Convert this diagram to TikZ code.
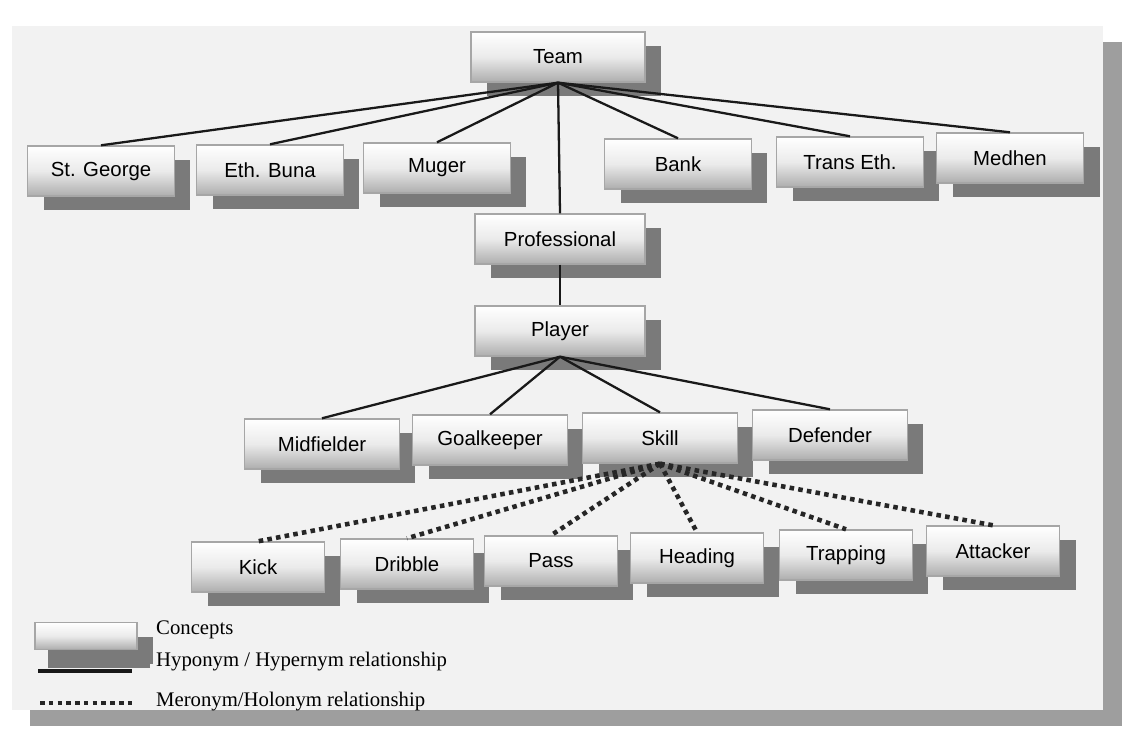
\documentclass[tikz,border=0pt]{standalone}
\usepackage{fontspec}
\setmainfont{Liberation Serif}
\newfontfamily\boxfont{Liberation Sans}
\usetikzlibrary{shadows}

\tikzset{
  concept/.style={draw=black!35, line width=0.8pt, shading=axis, top color=white, bottom color=black!32,
    middle color=black!8, minimum height=1cm, inner sep=2pt,
    font=\boxfont\fontsize{11.6}{13}\selectfont,
    drop shadow={shadow xshift=0.32cm, shadow yshift=-0.28cm, fill=black!52, opacity=1}},
  toprow/.style={concept, minimum width=2.94cm},
  midrow/.style={concept, minimum width=3.1cm},
  lowrow/.style={concept, minimum width=2.66cm},
  hypo/.style={line width=1.3pt, black!90},
  mero/.style={line width=2.6pt, black!85, dash pattern=on 2.6pt off 2.4pt},
  legtext/.style={anchor=west, font=\fontsize{11.8}{13}\selectfont}
}

\begin{document}
\begin{tikzpicture}[x=0.02cm, y=-0.02cm]
  \useasboundingbox (0,0) rectangle (1135,743);
  % page with its shadow
  \fill[black!38] (30,42) rectangle (1122,726);
  \fill[black!5] (12,26) rectangle (1103,710);

  % concepts
  \node[concept, minimum width=3.48cm] (team) at (558,57) {Team};
  \node[toprow] (stgeorge) at (101,171) {St. George};
  \node[toprow] (ethbuna) at (270,170) {Eth. Buna};
  \node[toprow] (muger) at (437,168) {Muger};
  \node[toprow] (bank) at (678,164) {Bank};
  \node[toprow] (transeth) at (850,162) {Trans Eth.};
  \node[toprow] (medhen) at (1010,158) {Medhen};
  \node[concept, minimum width=3.4cm] (professional) at (560,239) {Professional};
  \node[concept, minimum width=3.4cm] (player) at (560,331) {Player};
  \node[midrow] (midfielder) at (322,444) {Midfielder};
  \node[midrow] (goalkeeper) at (490,440) {Goalkeeper};
  \node[midrow] (skill) at (660,438) {Skill};
  \node[midrow] (defender) at (830,435) {Defender};
  \node[lowrow] (kick) at (258,567) {Kick};
  \node[lowrow] (dribble) at (407,564) {Dribble};
  \node[lowrow] (pass) at (551,561) {Pass};
  \node[lowrow] (heading) at (697,558) {Heading};
  \node[lowrow] (trapping) at (846,555) {Trapping};
  \node[lowrow] (attacker) at (993,551) {Attacker};

  % hyponym / hypernym links
  \foreach \n in {stgeorge,ethbuna,muger,bank,transeth,medhen,professional}
    \draw[hypo] (team.south) -- (\n.north);
  \draw[hypo] (professional.south) -- (player.north);
  \foreach \n in {midfielder,goalkeeper,skill,defender}
    \draw[hypo] (player.south) -- (\n.north);

  % meronym / holonym links
  \foreach \n in {kick,dribble,pass,heading,trapping,attacker}
    \draw[mero] (skill.south) -- (\n.north);

  % legend
  \node[concept, minimum width=2.04cm, minimum height=0.54cm, drop shadow={shadow xshift=0.26cm, shadow yshift=-0.36cm, fill=black!52, opacity=1}] (legbox) at (86,636) {};
  \node[legtext] (legconcept) at (150,630) {Concepts};
  \node[legtext] (leghypo) at (150,662) {Hyponym / Hypernym relationship};
  \node[legtext] (legmero) at (150,702) {Meronym/Holonym relationship};
  \draw[hypo, line width=2.4pt] (38,671) -- (132,671);
  \draw[mero, line width=2.4pt] (40,703) -- (135,703);
\end{tikzpicture}
\end{document}
